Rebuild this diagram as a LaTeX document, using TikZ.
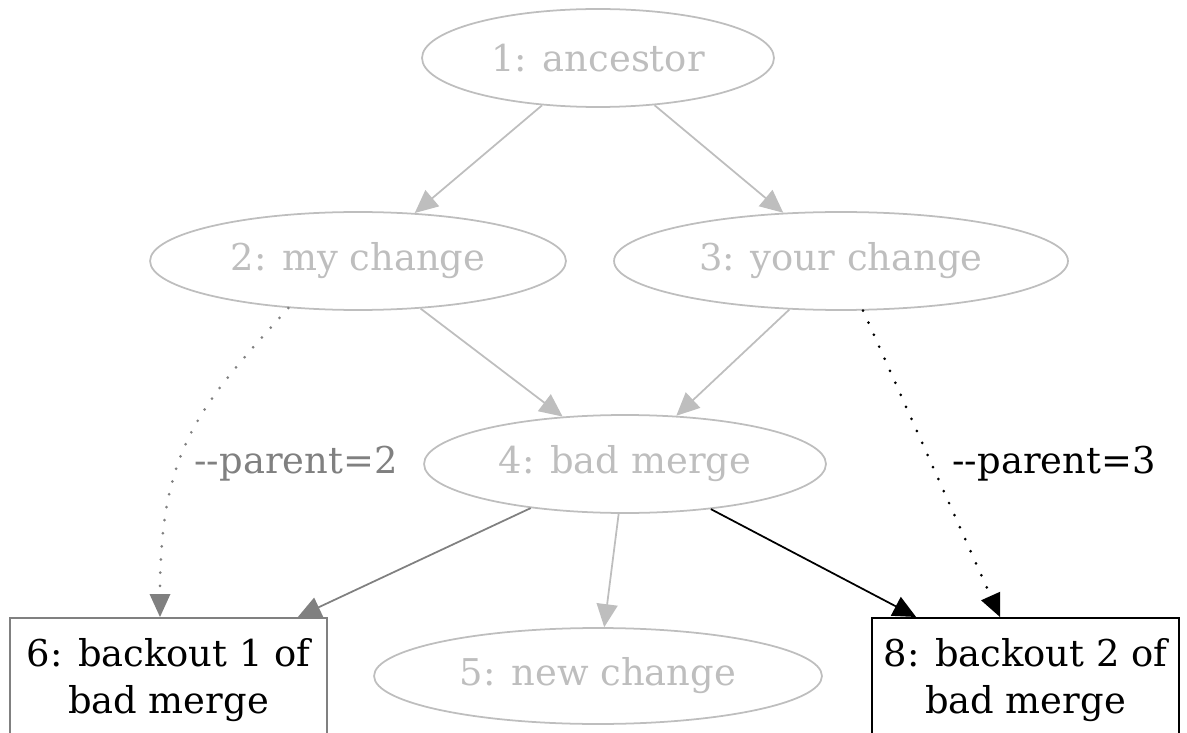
\documentclass[tikz,border=0pt]{standalone}
\usepackage{fontspec}
\setmainfont{DejaVu Serif}
\usetikzlibrary{shapes.geometric}
\usetikzlibrary{arrows.meta}

\definecolor{faded}{RGB}{190,190,190}
\definecolor{midgray}{RGB}{128,128,128}

\tikzset{
  rev/.style={ellipse, draw=faded, text=faded, line width=1pt, inner sep=0pt,
    font=\fontsize{21}{26.6}\selectfont},
  backout/.style={rectangle, draw, line width=1pt, align=center, inner sep=0pt,
    minimum height=2.5cm, font=\fontsize{21}{26.6}\selectfont},
  edge/.style={line width=1pt, -{Triangle[length=0.46cm, width=0.42cm]}},
  parentlink/.style={line width=1.7pt, line cap=round, dash pattern=on 0pt off 7.5pt,
    -{Triangle[length=0.46cm, width=0.42cm, line width=0pt]}},
}

\begin{document}
\begin{tikzpicture}[x=0.02cm, y=-0.02cm]
  \useasboundingbox (0,0) rectangle (1187,733);

  % revisions
  \node[rev, minimum width=7.04cm, minimum height=1.96cm] (anc) at (598,58) {1: ancestor};
  \node[rev, minimum width=8.32cm, minimum height=1.96cm] (mine) at (358,261) {2: my change};
  \node[rev, minimum width=9.08cm, minimum height=1.96cm] (yours) at (841,261) {3: your change};
  \node[rev, minimum width=8.04cm, minimum height=1.96cm] (merge) at (625,464) {4: bad merge};
  \node[rev, minimum width=8.96cm, minimum height=1.92cm] (newch) at (598,676) {5: new change};
  \node[backout, draw=midgray, minimum width=6.34cm, anchor=north] (back1) at (168.5,617) {6: backout 1 of\\bad merge};
  \node[backout, draw=black, minimum width=6.14cm, anchor=north] (back2) at (1025.5,617) {8: backout 2 of\\bad merge};

  % history
  \draw[edge, faded] (anc) -- (mine);
  \draw[edge, faded] (anc) -- (yours);
  \draw[edge, faded] (mine) -- (merge);
  \draw[edge, faded] (yours) -- (merge);
  \draw[edge, faded] (merge) -- (newch);
  \draw[edge, midgray] (merge) -- ([xshift=-0.6cm]back1.north east);
  \draw[edge, black] (merge) -- ([xshift=0.9cm]back2.north west);

  % backouts with --parent
  \draw[parentlink, midgray] (mine.-146) to[out=-132, in=90, in looseness=1.3] ([xshift=-0.17cm]back1.north);
  \draw[parentlink, black] (yours.-66) -- ([xshift=-0.51cm]back2.north);
  \node[text=midgray, font=\fontsize{21}{26.6}\selectfont] (lbl2) at (296,464) {-{}-parent=2};
  \node[font=\fontsize{21}{26.6}\selectfont] (lbl3) at (1054,464) {-{}-parent=3};
\end{tikzpicture}
\end{document}
